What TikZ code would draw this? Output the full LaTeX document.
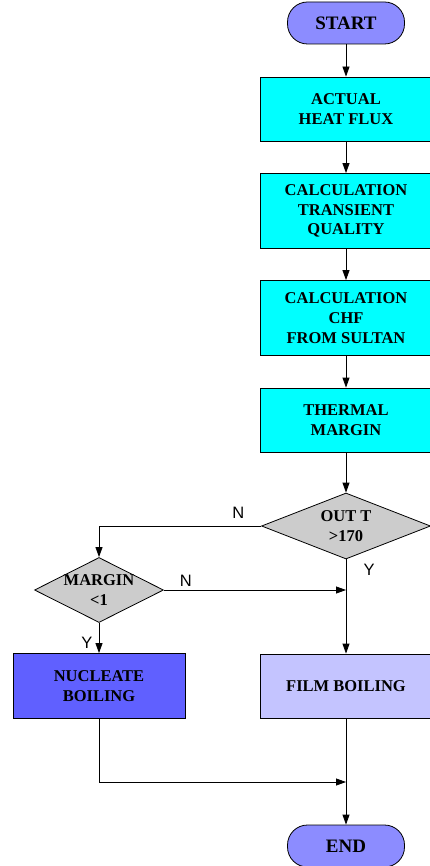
\documentclass[tikz,border=0pt]{standalone}
\usepackage{fontspec}
\setmainfont{Liberation Serif}
\newfontfamily\labelfont{Liberation Sans}
\usetikzlibrary{arrows.meta,shapes.geometric}

\definecolor{termcol}{RGB}{140,140,255}
\definecolor{stepcol}{RGB}{0,255,255}
\definecolor{testcol}{RGB}{204,204,204}
\definecolor{nbcol}{RGB}{96,96,255}
\definecolor{fbcol}{RGB}{196,196,255}

\begin{document}
\begin{tikzpicture}[x=1pt, y=1pt, node distance=104pt, line width=0.8pt,
  >={Triangle[length=10pt,width=7pt]},
  box text/.style={font=\fontsize{16.5}{19.8}\selectfont\bfseries, align=center},
  terminal node/.style={rectangle, rounded corners=20pt, draw, fill=termcol, minimum width=117pt, minimum height=42pt, font=\fontsize{19}{22}\selectfont\bfseries},
  process node/.style={rectangle, draw, fill=stepcol, minimum width=171pt, minimum height=64pt, inner sep=0pt, box text},
  decision node/.style={diamond, draw, fill=testcol, inner sep=0pt},
  label node/.style={font=\labelfont\fontsize{16.5}{19}\selectfont}]

  \useasboundingbox (0,0) rectangle (430,-866);

  \node[terminal node] (1) at (346,-23) {START};
  \node[process node] (2) [below of=1, node distance=86pt] {ACTUAL\\HEAT FLUX};
  \node[process node, minimum height=75pt] (3) [below of=2, node distance=102pt] {CALCULATION\\TRANSIENT\\QUALITY};
  \node[process node, minimum height=75pt] (4) [below of=3, node distance=107pt] {CALCULATION\\CHF\\FROM SULTAN};
  \node[process node] (5) [below of=4, node distance=102pt] {THERMAL\\MARGIN};
  \node[decision node, minimum width=169pt, minimum height=66pt,
        label={[box text]center:{OUT T\\>170}}] (6) [below of=5, node distance=106pt] {};
  \node[decision node, minimum width=129pt, minimum height=65pt,
        label={[box text]center:{MARGIN\\<1}}] (7) at (99,-590) {};
  \node[process node, fill=nbcol, minimum width=172pt, minimum height=65pt] (8) [below of=7, node distance=96pt] {NUCLEATE\\BOILING};
  \node[process node, fill=fbcol] (9) [below of=6, node distance=160pt] {FILM BOILING};
  \node[terminal node] (10) [below of=9, node distance=160pt] {END};

  \coordinate (j) at (6 |- 7);
  \coordinate (m) at (346,-782);

  \path[->]
    (1) edge (2)
    (2) edge (3)
    (3) edge (4)
    (4) edge (5)
    (5) edge (6)
    (6) edge node [pos=0.115, right=14pt, label node] {Y} (9)
    (7) edge node [pos=0.67, left=3pt, label node] {Y} (8)
    (9) edge (10);

  \draw[->] (6.west) -| node [pos=0.07, above=3.5pt, label node] {N} (7.north);
  \draw[->] (7.east) -- node [pos=0.12, above, label node] {N} (j);
  \draw[->] (8.south) |- (m);

\end{tikzpicture}
\end{document}
